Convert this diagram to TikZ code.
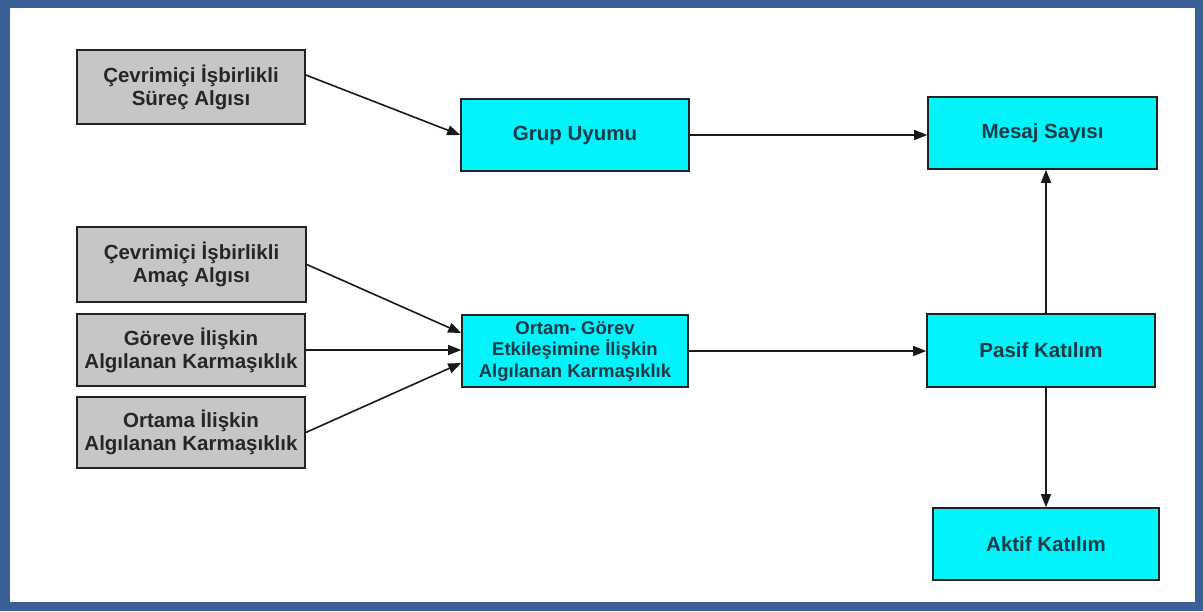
\documentclass[tikz,border=0pt]{standalone}
\usepackage{fontspec}
\setmainfont{Liberation Sans}
\usetikzlibrary{arrows.meta}
\definecolor{frameblue}{HTML}{3A5F95}
\definecolor{boxgray}{HTML}{C6C6C6}
\definecolor{boxcyan}{HTML}{00F4FA}
\definecolor{cyantext}{HTML}{1C3A48}
\definecolor{edgegray}{HTML}{222222}
\tikzset{
  basebox/.style={draw=edgegray, line width=1.6pt, inner sep=0pt, align=center,
    font=\fontsize{20.5}{23}\selectfont\bfseries},
  graybox/.style={basebox, fill=boxgray, text=black!85},
  cyanbox/.style={basebox, fill=boxcyan, text=cyantext},
  smalltext/.style={font=\fontsize{18.5}{21.5}\selectfont\bfseries},
  link/.style={line width=1.6pt, draw=black!90, -{Triangle[length=13pt,width=10pt]}}
}
\begin{document}
\begin{tikzpicture}[x=1pt, y=-1pt]
  \useasboundingbox (0,0) rectangle (1203,611);
  % outer frame
  \fill[frameblue] (0,0) rectangle (1203,611);
  \fill[white] (10,8) rectangle (1195,602);

  % perception boxes
  \node[graybox, minimum width=228pt, minimum height=74pt] (g1) at (191,87)
    {Çevrimiçi İşbirlikli\\Süreç Algısı};
  \node[graybox, minimum width=229pt, minimum height=75pt] (g2) at (191.5,264.5)
    {Çevrimiçi İşbirlikli\\Amaç Algısı};
  \node[graybox, minimum width=228pt, minimum height=72pt] (g3) at (191,350)
    {Göreve İlişkin\\Algılanan Karmaşıklık};
  \node[graybox, minimum width=228pt, minimum height=71pt] (g4) at (191,432.5)
    {Ortama İlişkin\\Algılanan Karmaşıklık};

  % mediating and outcome boxes
  \node[cyanbox, minimum width=228pt, minimum height=72pt] (grup) at (575,135)
    {Grup Uyumu};
  \node[cyanbox, smalltext, minimum width=226pt, minimum height=72pt] (ortam) at (575,351)
    {Ortam- Görev\\Etkileşimine İlişkin\\Algılanan Karmaşıklık};
  \node[cyanbox, minimum width=229pt, minimum height=72pt] (mesaj) at (1042.5,133)
    {Mesaj Sayısı};
  \node[cyanbox, minimum width=228pt, minimum height=73pt] (pasif) at (1041,350.5)
    {Pasif Katılım};
  \node[cyanbox, minimum width=226pt, minimum height=72pt] (aktif) at (1046,544)
    {Aktif Katılım};

  % connectors
  \draw[link] ([yshift=12pt]g1.east) -- (grup.west);
  \draw[link] (grup.east) -- (grup.east -| mesaj.west);
  \draw[link] (g2.east) -- ([yshift=18pt]ortam.west);
  \draw[link] (g3.east) -- (g3.east -| ortam.west);
  \draw[link] (g4.east) -- ([yshift=-12pt]ortam.west);
  \draw[link] (ortam.east) -- (ortam.east -| pasif.west);
  \draw[link] ([xshift=5pt]pasif.north) -- ([xshift=5pt]pasif.north |- mesaj.south);
  \draw[link] ([xshift=5pt]pasif.south) -- ([xshift=5pt]pasif.south |- aktif.north);
\end{tikzpicture}
\end{document}
